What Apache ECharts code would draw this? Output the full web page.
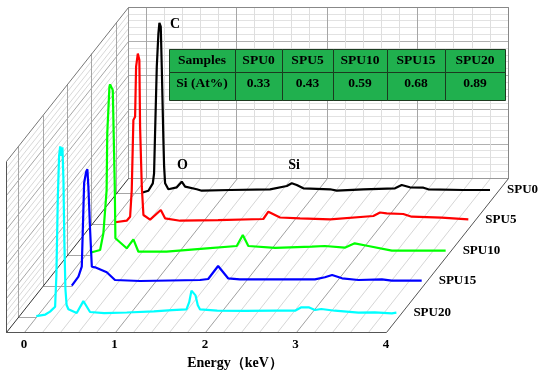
<!DOCTYPE html>
<html><head><meta charset="utf-8">
<script src="https://cdn.jsdelivr.net/npm/echarts@6/dist/echarts.min.js"></script>
<style>html,body{margin:0;padding:0;background:#fff}#c{width:550px;height:376px}</style>
</head><body><div id="c"></div>
<script>
// ---------------- data ----------------
const seriesNames = ['SPU0', 'SPU5', 'SPU10', 'SPU15', 'SPU20'];
const seriesColors = ['#000000', '#ff0000', '#00ff00', '#0000ff', '#00ffff'];
// [energy keV, counts]
const spu0 = [[0.087,20],[0.16,79],[0.209,295],[0.223,588],[0.234,1757],[0.253,3705],[0.271,4681],[0.282,4990],[0.297,4874],[0.308,3705],[0.326,1561],[0.334,781],[0.345,295],[0.381,120],[0.474,178],[0.529,342],[0.566,196],[0.695,120],[0.75,79],[1.063,99],[1.505,120],[1.69,216],[1.745,295],[1.80,246],[1.873,149],[2.168,120],[2.242,79],[2.536,120],[2.886,149],[2.96,246],[3.05,178],[3.2,167],[3.254,120],[3.64,99],[3.936,99]];
const spu5 = [[0.062,56],[0.19,102],[0.228,219],[0.246,1000],[0.264,3047],[0.283,3143],[0.294,4605],[0.313,4990],[0.33,4801],[0.338,2851],[0.357,1097],[0.375,269],[0.449,132],[0.567,415],[0.614,172],[0.78,102],[1.2,120],[1.70,152],[1.756,365],[1.885,196],[2.106,172],[2.44,143],[2.916,240],[2.99,342],[3.064,319],[3.247,298],[3.34,219],[3.67,190],[3.966,143]];
const spu10 = [[0.055,67],[0.166,146],[0.202,634],[0.238,1900],[0.245,3560],[0.269,4920],[0.276,4990],[0.306,4820],[0.328,2000],[0.335,490],[0.46,196],[0.534,459],[0.589,96],[0.90,96],[1.345,196],[1.676,263],[1.743,585],[1.804,263],[2.10,210],[2.505,243],[2.65,263],[2.87,213],[2.98,342],[3.13,263],[3.39,126],[3.985,126]];
const spu15 = [[0.123,3],[0.196,266],[0.233,558],[0.259,3006],[0.281,3327],[0.295,3406],[0.306,2898],[0.325,1632],[0.344,558],[0.38,541],[0.509,395],[0.60,170],[0.877,140],[1.54,170],[1.63,199],[1.74,579],[1.85,219],[1.98,190],[2.37,190],[2.81,190],[2.92,249],[3.0,316],[3.11,219],[3.29,170],[3.55,190],[3.66,150],[3.99,150]];
const spu20 = [[0.0,15],[0.10,60],[0.152,146],[0.208,290],[0.222,1200],[0.238,3500],[0.252,4700],[0.264,4980],[0.277,4700],[0.289,4950],[0.30,4000],[0.31,2200],[0.322,800],[0.335,340],[0.355,215],[0.447,105],[0.52,455],[0.594,135],[0.75,100],[1.0,120],[1.3,150],[1.5,190],[1.66,210],[1.69,420],[1.715,760],[1.735,810],[1.76,620],[1.785,330],[1.81,210],[2.0,175],[2.3,170],[2.64,172],[2.86,172],[2.93,272],[3.01,272],[3.08,193],[3.15,222],[3.30,172],[3.56,114],[3.74,126],[3.93,96],[3.98,114]];
const seriesData = [spu0, spu5, spu10, spu15, spu20];
const energyTicks = [0, 1, 2, 3, 4];
const peakLabels = [['C', 0.454, 4953], ['O', 0.537, 830], ['Si', 1.77, 830]];
const tableHeader = ['Samples', 'SPU0', 'SPU5', 'SPU10', 'SPU15', 'SPU20'];
const tableRow = ['Si (At%)', '0.33', '0.43', '0.59', '0.68', '0.89'];

// ---------------- geometry ----------------
const X_MIN = -0.2, X_MAX = 4, Y_MAX = 5000;
const BOX = { left: 6, bottom: 332, width: 380, height: 171, dx: 122, dy: -154 };
const SCALE = BOX.width / (X_MAX - X_MIN);
const planeDepth = [0.9, 0.7, 0.5, 0.3, 0.1];
const FONT = "'Times New Roman', 'Liberation Serif', serif";
function px(x, d) { return BOX.left + (x - X_MIN) * SCALE + d * BOX.dx; }
function py(y, d) { return BOX.bottom - y / Y_MAX * BOX.height + d * BOX.dy; }

const grids = [], xAxes = [], yAxes = [], series = [];
function gridAt(d, xFrom, xTo) {
  return { left: px(xFrom, d), top: py(Y_MAX, d), width: (xTo - xFrom) * SCALE, height: BOX.height, outerBoundsMode: 'none', containLabel: false };
}
const hidden = { axisLine: { show: false }, axisTick: { show: false }, axisLabel: { show: false } };

// back wall: minor grid (0)
grids.push(gridAt(1, X_MIN, X_MAX));
xAxes.push(Object.assign({ gridIndex: 0, type: 'value', min: X_MIN, max: X_MAX, interval: 0.2,
  splitLine: { show: true, lineStyle: { color: '#dedede', width: 1 } } }, hidden));
yAxes.push(Object.assign({ gridIndex: 0, type: 'value', min: 0, max: Y_MAX, interval: 1000,
  splitLine: { show: true, lineStyle: { color: '#b0b0b0', width: 1 } },
  minorTick: { show: false, splitNumber: 5 },
  minorSplitLine: { show: true, lineStyle: { color: '#e2e2e2', width: 1 } } }, hidden));
// back wall: major vertical lines (1)
grids.push(gridAt(1, 0, X_MAX));
xAxes.push(Object.assign({ gridIndex: 1, type: 'value', min: 0, max: X_MAX, interval: 1,
  splitLine: { show: true, lineStyle: { color: '#a6a6a6', width: 1 } } }, hidden));
yAxes.push({ gridIndex: 1, type: 'value', min: 0, max: Y_MAX, show: false });
// front floor edge axis (2)
grids.push(gridAt(0, X_MIN, X_MAX));
xAxes.push({ gridIndex: 2, type: 'value', min: X_MIN, max: X_MAX,
  axisLine: { show: false }, axisTick: { show: false }, splitLine: { show: false },
  axisLabel: { show: true, customValues: energyTicks, margin: 6, color: '#000', fontWeight: 'bold', fontSize: 13, fontFamily: FONT },
  name: 'Energy（keV）', nameLocation: 'middle', nameGap: 24,
  nameTextStyle: { color: '#000', fontWeight: 'bold', fontSize: 14, fontFamily: FONT, padding: [0, 0, 0, 78] } });
yAxes.push({ gridIndex: 2, type: 'value', min: 0, max: Y_MAX, show: false });

// spectrum planes
seriesNames.forEach((name, i) => {
  const gi = grids.length;
  grids.push(gridAt(planeDepth[i], X_MIN, X_MAX));
  xAxes.push({ gridIndex: gi, type: 'value', min: X_MIN, max: X_MAX, show: false });
  yAxes.push({ gridIndex: gi, type: 'value', min: 0, max: Y_MAX, show: false });
  const s = {
    name: name, type: 'line', xAxisIndex: gi, yAxisIndex: gi, data: seriesData[i],
    symbol: 'none', smooth: false, clip: false,
    lineStyle: { color: seriesColors[i], width: 2.2 }, itemStyle: { color: seriesColors[i] },
    endLabel: { show: true, formatter: '{a}', distance: 17, color: '#000', fontWeight: 'bold', fontSize: 13, fontFamily: FONT },
    z: 3 + i
  };
  if (i === 0) {
    s.markPoint = {
      symbol: 'circle', symbolSize: 1, itemStyle: { color: 'rgba(0,0,0,0)' },
      label: { show: true, position: 'inside', formatter: p => p.name, color: '#000', fontWeight: 'bold', fontSize: 14, fontFamily: FONT },
      data: peakLabels.map(p => ({ name: p[0], coord: [p[1], p[2]] }))
    };
  }
  series.push(s);
});

// ---------------- decoration (walls / floor) ----------------
const decor = [];
function L(x1, y1, x2, y2, color, w) {
  decor.push({ type: 'line', silent: true, z: 1,
    shape: { x1: Math.round(x1) + 0.5, y1: Math.round(y1) + 0.5, x2: Math.round(x2) + 0.5, y2: Math.round(y2) + 0.5 },
    style: { stroke: color, lineWidth: w || 1 } });
}
// floor hatches
for (let k = 1; k < 21; k++) {
  const x = X_MIN + k * 0.2;
  const major = (k % 5 === 1);
  L(px(x, 0), py(0, 0), px(x, 1), py(0, 1), major ? '#a0a0a0' : '#d6d6d6', 1);
}
// left wall diagonals
for (let j = 1; j < 25; j++) {
  const y = j * 200;
  const major = (j % 5 === 0);
  L(px(X_MIN, 0), py(y, 0), px(X_MIN, 1), py(y, 1), major ? '#a6a6a6' : '#d8d8d8', 1);
}
// plane lines on left wall and floor
planeDepth.forEach((d, i) => {
  L(px(X_MIN, d), py(0, d), px(X_MIN, d), py(Y_MAX, d), '#a6a6a6', 1);
  L(px(X_MIN, d), py(0, d), px(seriesData[i][0][0], d), py(0, d), '#a6a6a6', 1);
});
// edges
L(px(X_MIN, 1), py(0, 1), px(X_MIN, 1), py(Y_MAX, 1), '#999999', 1);
L(px(X_MIN, 1), py(Y_MAX, 1), px(X_MAX, 1), py(Y_MAX, 1), '#888888', 1);
L(px(X_MAX, 1), py(Y_MAX, 1), px(X_MAX, 1), py(0, 1), '#888888', 1);
L(px(X_MIN, 1), py(0, 1), px(X_MAX, 1), py(0, 1), '#999999', 1);
L(px(X_MIN, 0), py(Y_MAX, 0), px(X_MIN, 1), py(Y_MAX, 1), '#777777', 1);
L(px(X_MIN, 0), py(0, 0), px(X_MIN, 0), py(Y_MAX, 0), '#555555', 1);
L(px(X_MIN, 0), py(0, 0), px(X_MAX, 0), py(0, 0), '#555555', 1);
L(px(X_MAX, 0), py(0, 0), px(X_MAX, 1), py(0, 1), '#555555', 1);
L(px(X_MIN, 0), py(0, 0), px(X_MIN, 1), py(0, 1), '#333333', 1);

// ---------------- table ----------------
const TABLE = { left: 169, top: 49, colW: [66, 47, 51, 54, 58, 60], rowH: [23, 28], textY: [12, 12], fill: '#20b04e', stroke: '#1b3a1f' };
const tableEls = [];
[tableHeader, tableRow].forEach((row, r) => {
  let x = TABLE.left;
  const y = TABLE.top + (r === 0 ? 0 : TABLE.rowH[0]);
  row.forEach((txt, c) => {
    const w = TABLE.colW[c], h = TABLE.rowH[r];
    tableEls.push({ type: 'rect', silent: true, z: 50, shape: { x: x + 0.5, y: y + 0.5, width: w, height: h },
      style: { fill: TABLE.fill, stroke: TABLE.stroke, lineWidth: 1 } });
    tableEls.push({ type: 'text', silent: true, z: 51, x: x + w / 2, y: y + TABLE.textY[r],
      style: { text: txt, fill: '#000', font: 'bold 13.5px ' + FONT, align: 'center', verticalAlign: 'middle' } });
    x += w;
  });
});

const chart = echarts.init(document.getElementById('c'));
chart.setOption({
  animation: false,
  backgroundColor: '#ffffff',
  grid: grids, xAxis: xAxes, yAxis: yAxes, series: series,
  graphic: { elements: decor.concat(tableEls) }
});
</script></body></html>
